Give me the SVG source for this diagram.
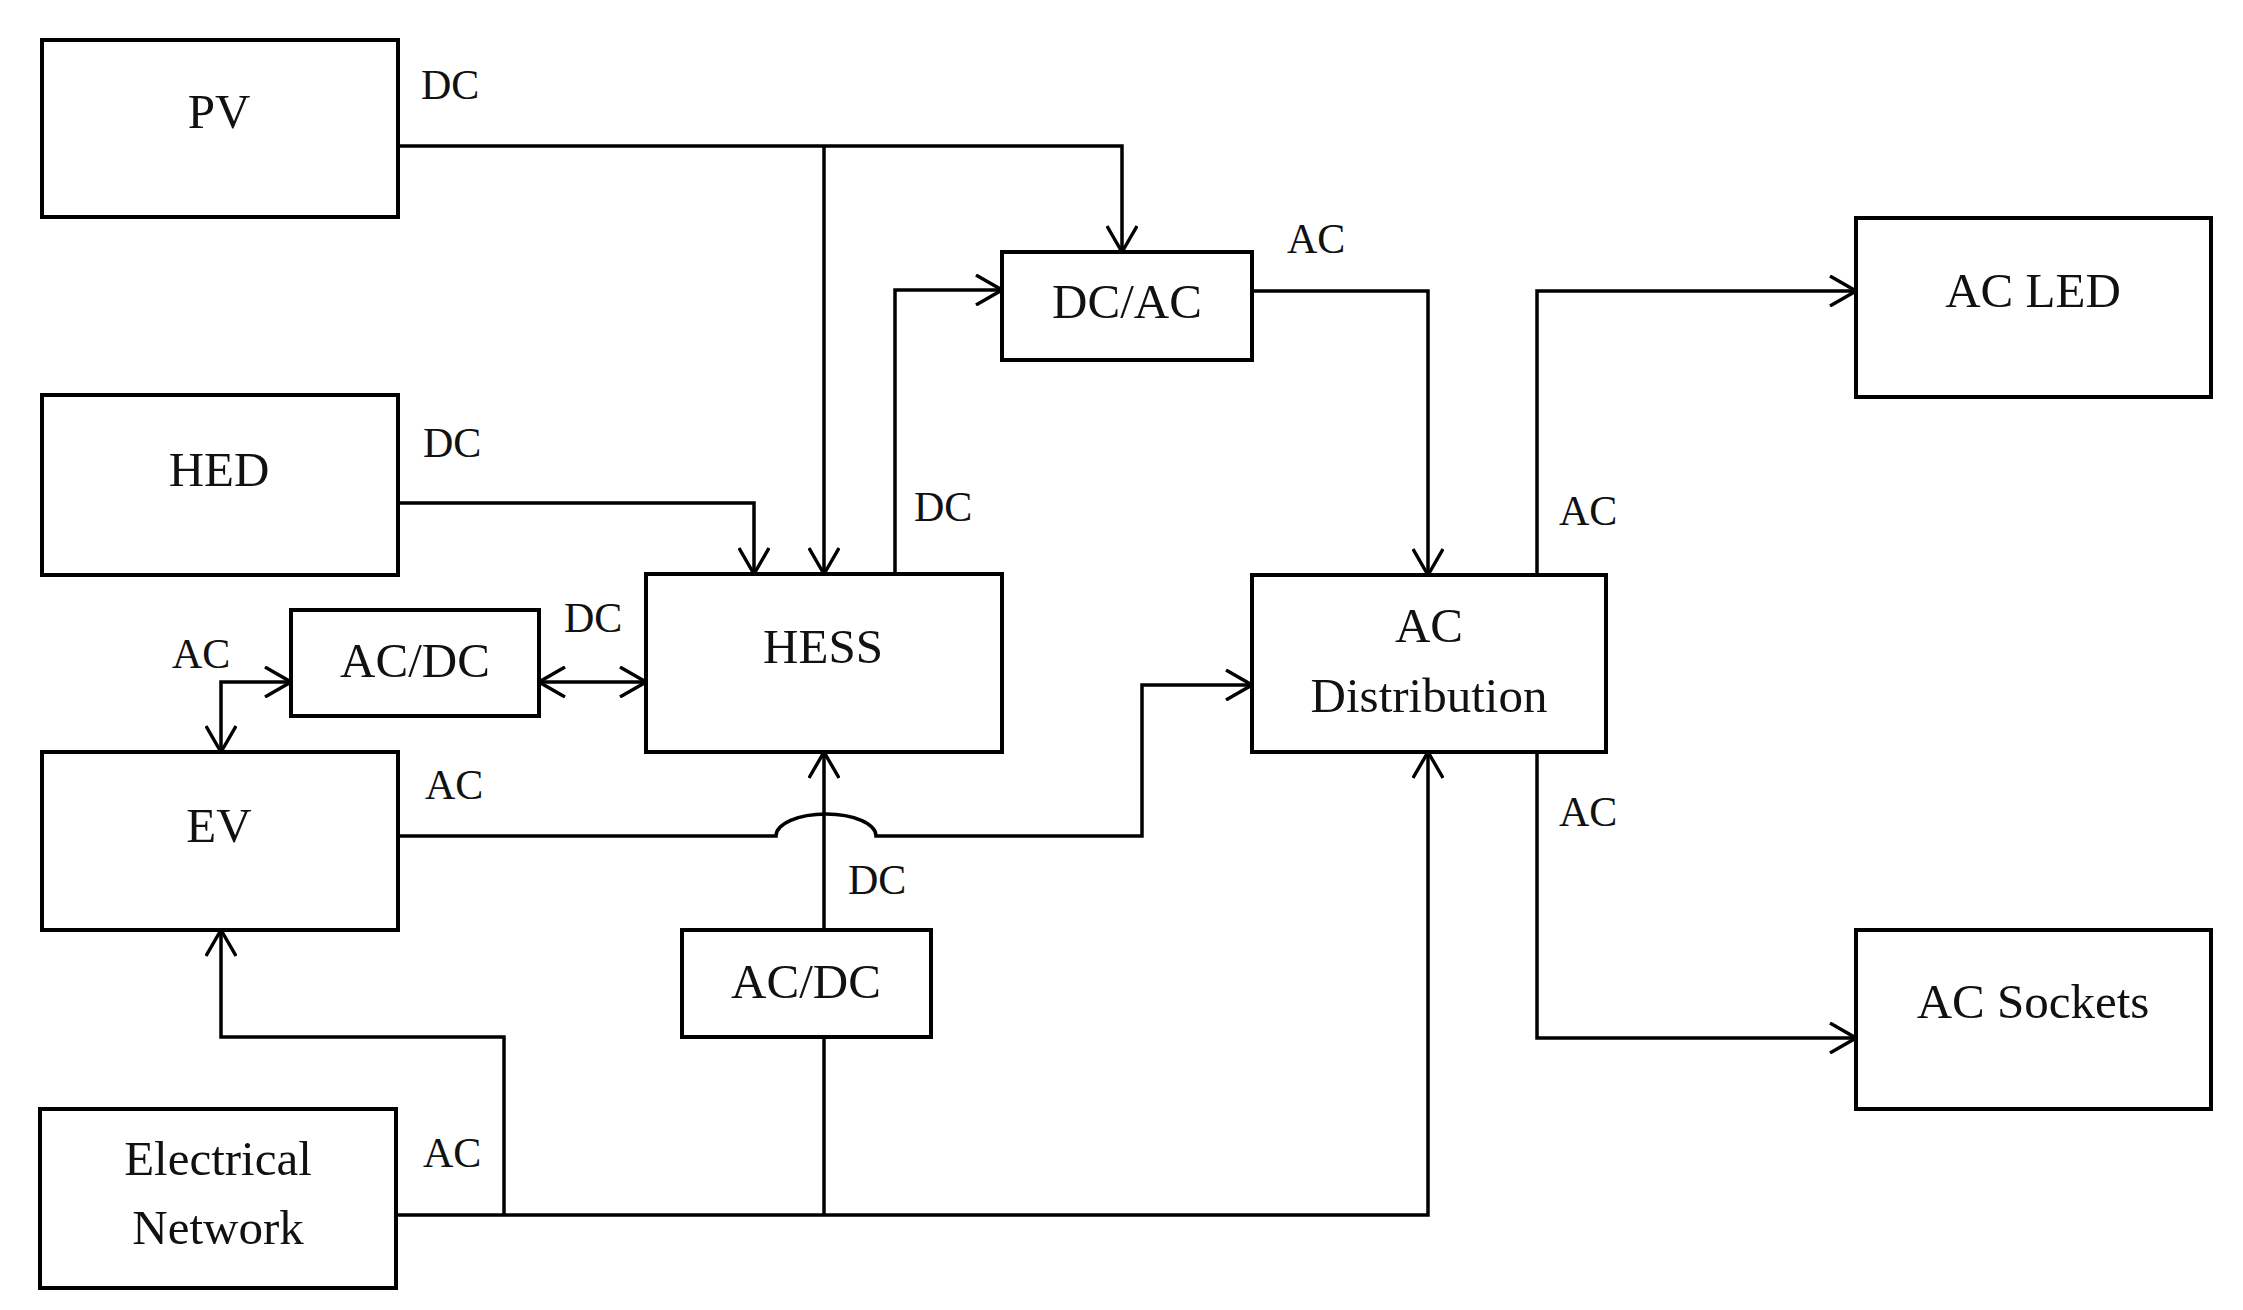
<svg xmlns="http://www.w3.org/2000/svg" width="2243" height="1310" viewBox="0 0 2243 1310">
<style>
.box{fill:#fff;stroke:#000;stroke-width:4}
.lbl{font-family:"Liberation Serif","Times New Roman",serif;font-size:49px;fill:#111;text-anchor:middle}
.sm{font-family:"Liberation Serif","Times New Roman",serif;font-size:42px;fill:#111}
.c{fill:none;stroke:#000;stroke-width:3.5}
.a{marker-end:url(#arr)}
.b{marker-start:url(#arr);marker-end:url(#arr)}
</style>
<defs>
<marker id="arr" viewBox="0 0 28 32" refX="27" refY="16" markerWidth="28" markerHeight="32" markerUnits="userSpaceOnUse" orient="auto-start-reverse">
<path d="M1,1 L27,16 L1,31" fill="none" stroke="#000" stroke-width="3.4"/>
</marker>
</defs>
<rect width="2243" height="1310" fill="#fff"/>
<g id="connectors">
<path class="c a" d="M398,146 H1122 V252"/>
<path class="c a" d="M824,146 V574"/>
<path class="c a" d="M398,503 H754 V574"/>
<path class="c a" d="M895,574 V290 H1002"/>
<path class="c a" d="M1252,291 H1428 V575"/>
<path class="c a" d="M1537,575 V291 H1856"/>
<path class="c a" d="M1537,752 V1038 H1856"/>
<path class="c a" d="M396,1215 H1428 V752"/>
<path class="c a" d="M504,1215 V1037 H221 V930"/>
<path class="c" d="M824,1215 V1037"/>
<path class="c a" d="M824,930 V752"/>
<path class="c a" d="M398,836 H776 A50,22 0 0 1 876,836 H1142 V685 H1252"/>
<path class="c b" d="M539,682 H646"/>
<path class="c b" d="M291,682 H221 V752"/>
<text class="sm" x="421" y="99">DC</text>
<text class="sm" x="423" y="457">DC</text>
<text class="sm" x="914" y="521">DC</text>
<text class="sm" x="1287" y="253">AC</text>
<text class="sm" x="1559" y="525">AC</text>
<text class="sm" x="1559" y="826">AC</text>
<text class="sm" x="564" y="632">DC</text>
<text class="sm" x="172" y="668">AC</text>
<text class="sm" x="425" y="799">AC</text>
<text class="sm" x="848" y="894">DC</text>
<text class="sm" x="423" y="1167">AC</text>
</g>
<g id="pv"><rect class="box" x="42" y="40" width="356" height="177"/><text class="lbl" x="219" y="128">PV</text></g>
<g id="hed"><rect class="box" x="42" y="395" width="356" height="180"/><text class="lbl" x="219" y="486">HED</text></g>
<g id="dcac"><rect class="box" x="1002" y="252" width="250" height="108"/><text class="lbl" x="1127" y="318">DC/AC</text></g>
<g id="acled"><rect class="box" x="1856" y="218" width="355" height="179"/><text class="lbl" x="2033" y="307">AC LED</text></g>
<g id="acdist"><rect class="box" x="1252" y="575" width="354" height="177"/><text class="lbl" x="1429" y="642">AC</text><text class="lbl" x="1429" y="712">Distribution</text></g>
<g id="hess"><rect class="box" x="646" y="574" width="356" height="178"/><text class="lbl" x="823" y="663">HESS</text></g>
<g id="acdc1"><rect class="box" x="291" y="610" width="248" height="106"/><text class="lbl" x="415" y="677">AC/DC</text></g>
<g id="ev"><rect class="box" x="42" y="752" width="356" height="178"/><text class="lbl" x="219" y="842">EV</text></g>
<g id="acdc2"><rect class="box" x="682" y="930" width="249" height="107"/><text class="lbl" x="806" y="998">AC/DC</text></g>
<g id="acsockets"><rect class="box" x="1856" y="930" width="355" height="179"/><text class="lbl" x="2033" y="1018">AC Sockets</text></g>
<g id="network"><rect class="box" x="40" y="1109" width="356" height="179"/><text class="lbl" x="218" y="1175">Electrical</text><text class="lbl" x="218" y="1244">Network</text></g>
</svg>
